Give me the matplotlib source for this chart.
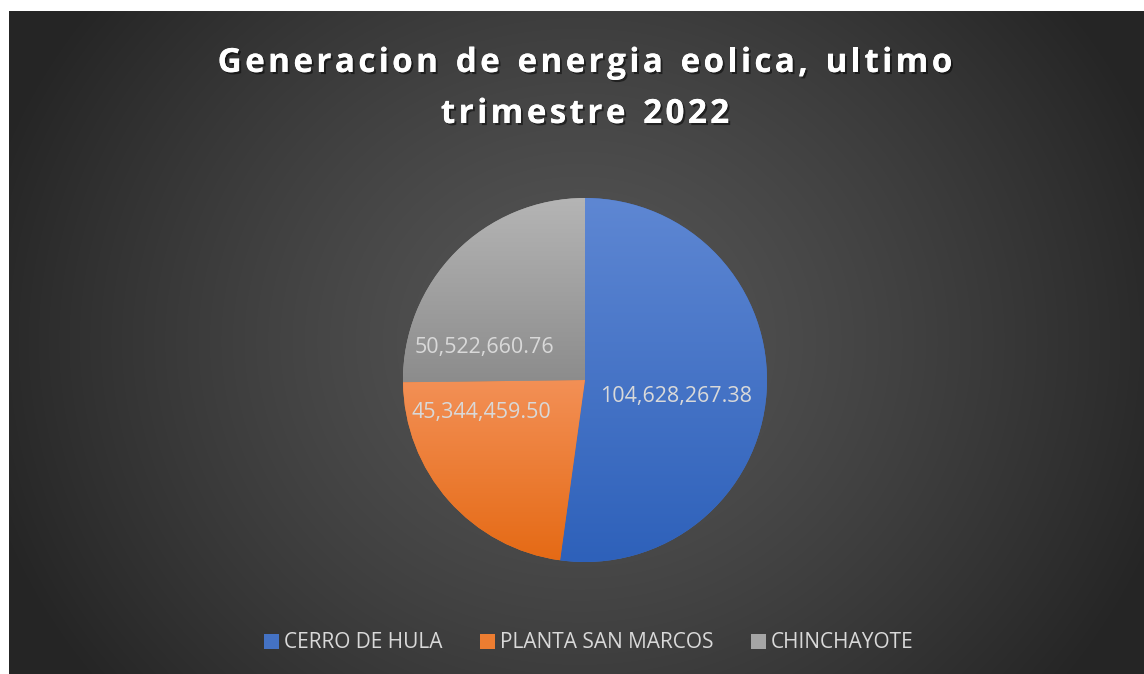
import numpy as np
import matplotlib
matplotlib.use('Agg')
from matplotlib import pyplot as plt
from matplotlib.patches import Patch
from matplotlib.colors import to_rgb
import matplotlib.patheffects as pe

# datos
plantas = ['CERRO DE HULA', 'PLANTA SAN MARCOS', 'CHINCHAYOTE']
energia = [104628267.38, 45344459.50, 50522660.76]
titulo = 'Generacion de energia eolica, ultimo\ntrimestre 2022'

# colores (arriba, abajo) del degradado de cada rebanada
col_top = ['#5E87D3', '#F39056', '#B5B5B5']
col_bot = ['#2E61BA', '#E56A15', '#8C8C8C']
col_leg = ['#4472C4', '#ED7D31', '#A5A5A5']
# posicion de etiquetas (coordenadas del eje del pie)
pos_etq = [(0.50, -0.09), (-0.57, -0.18), (-0.55, 0.18)]

W, H = 1144, 674
fig = plt.figure(figsize=(W / 100, H / 100), dpi=100)
fig.patch.set_facecolor('white')

# fondo con degradado radial
bg = fig.add_axes([9 / W, 0, 1 - 9 / W, 1 - 11 / H])
bg.set_axis_off()
yy, xx = np.mgrid[0:H - 11, 0:W - 9]
cx, cy = 570, 330
d = np.sqrt(((xx - cx) / 620.0) ** 2 + ((yy - cy) / 560.0) ** 2)
d = np.clip(d, 0, 1)
c_in, c_out = 0x56 / 255, 0x25 / 255
img = c_in + (c_out - c_in) * d ** 1.3
bg.imshow(np.dstack([img, img, img]), aspect='auto', extent=(0, 1, 0, 1))
bg.set_xlim(0, 1)
bg.set_ylim(0, 1)

# pie
cxp, cyp, r = 585, 380, 182
ax = fig.add_axes([(cxp - r) / W, (H - cyp - r) / H, 2 * r / W, 2 * r / H])
wedges, _ = ax.pie(energia, startangle=90, counterclock=False,
                   colors=col_leg, wedgeprops=dict(linewidth=0))
for i, w in enumerate(wedges):
    ext = w.get_path().get_extents()
    t = np.array(to_rgb(col_top[i]))
    b = np.array(to_rgb(col_bot[i]))
    s = np.linspace(0, 1, 256)[:, None]
    grad = (t * (1 - s) + b * s)[:, None, :]
    grad = np.repeat(grad, 2, axis=1)
    im = ax.imshow(grad, extent=(ext.x0, ext.x1, ext.y0, ext.y1),
                   aspect='auto', zorder=2)
    im.set_clip_path(w)
for i, v in enumerate(energia):
    ax.text(pos_etq[i][0], pos_etq[i][1], '{:,.2f}'.format(v), ha='center',
            va='center', color='#D9D9D9', fontsize=15.5, family='Open Sans', zorder=5)
ax.set_xlim(-1, 1)
ax.set_ylim(-1, 1)
ax.set_aspect('equal')
ax.set_axis_off()

# titulo con espaciado entre letras
renderer = fig.canvas.get_renderer()
def texto_espaciado(txt, xc, y, size, esp):
    props = dict(fontsize=size, fontweight='bold', family='Open Sans', color='white')
    anchos = []
    for ch in txt:
        t = fig.text(0, 0, ch if ch != ' ' else 'a', **props)
        e = t.get_window_extent(renderer)
        anchos.append(e.width * (0.55 if ch == ' ' else 1.0))
        t.remove()
    total = sum(anchos) + esp * (len(txt) - 1)
    x = xc - total / 2
    for ch, a in zip(txt, anchos):
        if ch != ' ':
            fig.text(x / W, 1 - y / H, ch, va='baseline', ha='left',
                     path_effects=[pe.withSimplePatchShadow(offset=(1.5, -1.5),
                                   shadow_rgbFace='black', alpha=0.5), pe.Normal()],
                     **props)
        x += a + esp

lineas = titulo.split('\n')
texto_espaciado(lineas[0], 585, 72, 24, 3.3)
texto_espaciado(lineas[1], 585, 123, 24, 3.3)

# leyenda
handles = [Patch(facecolor=c, edgecolor='none') for c in col_leg]
leg = fig.legend(handles, plantas, loc='center', bbox_to_anchor=(589 / W, 1 - 643 / H),
                 ncol=3, frameon=False, handlelength=0.7, handleheight=0.7,
                 handletextpad=0.25, columnspacing=1.8,
                 prop=dict(family='Open Sans', size=15))
for t in leg.get_texts():
    t.set_color('#D9D9D9')

plt.savefig('out.png', dpi=100, facecolor='white')
